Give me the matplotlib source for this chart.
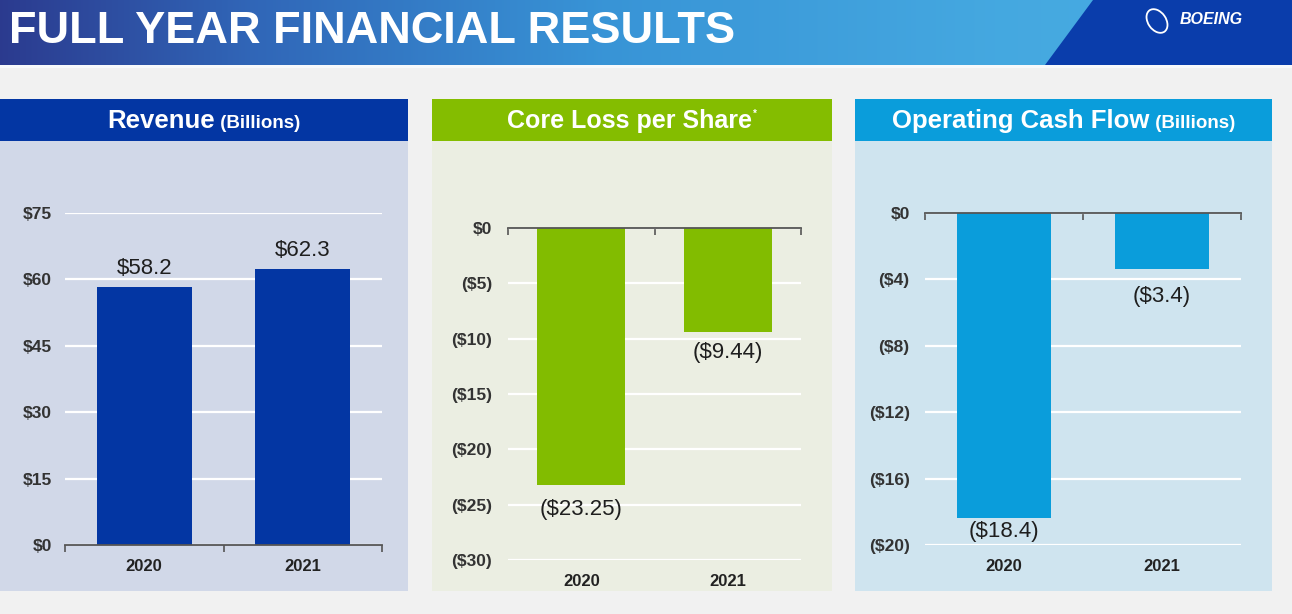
import numpy as np
import matplotlib
matplotlib.use("Agg")
import matplotlib.pyplot as plt
from matplotlib.patches import Rectangle, Polygon, Ellipse
from matplotlib.ticker import FuncFormatter, FixedLocator
from matplotlib.offsetbox import TextArea, HPacker, AnnotationBbox

# ---------------- data ----------------
years = ["2020", "2021"]
revenue = [58.2, 62.3]
revenue_labels = ["$58.2", "$62.3"]
core_eps = [-23.25, -9.44]
core_eps_labels = ["($23.25)", "($9.44)"]
op_cash = [-18.4, -3.4]
op_cash_labels = ["($18.4)", "($3.4)"]
revenue_ticks = [0, 15, 30, 45, 60, 75]
core_ticks = [0, -5, -10, -15, -20, -25, -30]
cash_ticks = [0, -4, -8, -12, -16, -20]
title = "FULL YEAR FINANCIAL RESULTS"

W, H = 1292, 614
plt.rcParams['font.family'] = ['Liberation Sans', 'DejaVu Sans']

fig = plt.figure(figsize=(W / 100, H / 100), dpi=100)
fig.patch.set_facecolor('#f1f1f1')


def fx(x):
    return x / W


def fy(y):
    return 1 - y / H


def rect_px(x0, y0, x1, y1, color, z=-2):
    fig.patches.append(Rectangle((fx(x0), fy(y1)), (x1 - x0) / W, (y1 - y0) / H,
                                 transform=fig.transFigure, facecolor=color,
                                 edgecolor='none', zorder=z))


# ---------------- banner ----------------
bax = fig.add_axes([0, fy(65), 1, 65 / H])
bax.set_axis_off()
stops_x = [0, 250, 600, 1000, 1292]
stops_c = [(0.17, 0.23, 0.56), (0.19, 0.40, 0.72), (0.22, 0.58, 0.84),
           (0.27, 0.66, 0.88), (0.28, 0.68, 0.89)]
xs = np.arange(W)
grad = np.zeros((1, W, 3))
for k in range(3):
    grad[0, :, k] = np.interp(xs, stops_x, [c[k] for c in stops_c])
bax.imshow(grad, aspect='auto', extent=[0, W, 65, 0])
bax.set_xlim(0, W)
bax.set_ylim(65, 0)
bax.add_patch(Polygon([[1045, 65], [1093, 0], [W, 0], [W, 65]], closed=True,
                      facecolor='#0a3dab', edgecolor='none'))
bax.text(9, 43, title, color='white', fontsize=32.5, fontweight='bold',
         va='baseline', ha='left')
bax.text(1180, 19, "BOEING", color='white', fontsize=11.5, fontweight='bold',
         fontstyle='italic', va='center', ha='left')
bax.add_patch(Ellipse((1157, 21), 18, 26, angle=-35, fill=False, edgecolor='white', lw=1.3))
rect_px(0, 65, W, 68, '#f7f9fb', z=1)

# ---------------- panels ----------------
panels = [
    dict(x0=0, x1=408, head='#0336a3', body='#d1d8e8', bar='#0336a3',
         ax=(65, 382, 213, 545), ylim=(0, 75), ticks=revenue_ticks,
         vals=revenue, labels=revenue_labels, offs=[6, 6],
         title=["Revenue", " (Billions)"], ylab_pad=9.5, xlab_pad=10),
    dict(x0=432, x1=832, head='#84bd00', body='#ebeee2', bar='#82bc00',
         ax=(508, 801, 228, 560), ylim=(-30, 0), ticks=core_ticks,
         vals=core_eps, labels=core_eps_labels, offs=[-10, -7],
         title=["Core Loss per Share", "*"], ylab_pad=11.5, xlab_pad=10),
    dict(x0=855, x1=1272, head='#0a9ddb', body='#cfe4ef', bar='#0a9ddb',
         ax=(925, 1241, 213, 545), ylim=(-20, 0), ticks=cash_ticks,
         vals=op_cash, labels=op_cash_labels, offs=[-2, -12],
         title=["Operating Cash Flow", " (Billions)"], ylab_pad=11, xlab_pad=10),
]


def money(v, pos=None):
    if v < 0:
        return "(${:g})".format(-v)
    return "${:g}".format(v)


for p in panels:
    rect_px(p['x0'], 141, p['x1'], 591, p['body'])
    rect_px(p['x0'], 99, p['x1'], 141, p['head'])

    # header text
    big = TextArea(p['title'][0], textprops=dict(color='white', fontsize=18.5, fontweight='bold'))
    if p['title'][1] == "*":
        big = TextArea(p['title'][0], textprops=dict(color='white', fontsize=18, fontweight='bold'))
        small = TextArea("*", textprops=dict(color='white', fontsize=7, fontweight='bold'))
        pack = HPacker(children=[big, small], align='top', pad=0, sep=1)
    else:
        small = TextArea(p['title'][1], textprops=dict(color='white', fontsize=13.5, fontweight='bold'))
        pack = HPacker(children=[big, small], align='baseline', pad=0, sep=0)
    ab = AnnotationBbox(pack, (fx((p['x0'] + p['x1']) / 2), fy(121)), xycoords='figure fraction',
                        frameon=False, box_alignment=(0.5, 0.5), pad=0)
    fig.add_artist(ab)

    l, r, t, b = p['ax']
    ax = fig.add_axes([fx(l), fy(b), (r - l) / W, (b - t) / H])
    ax.set_facecolor('none')
    ax.set_xlim(-0.5, 1.5)
    ax.set_ylim(*p['ylim'])
    xpos = np.arange(len(years))
    bars = ax.bar(xpos, p['vals'], width=0.6, color=p['bar'], zorder=2)
    for bar_, lab, off in zip(bars, p['labels'], p['offs']):
        h = bar_.get_height()
        ax.annotate(lab, (bar_.get_x() + bar_.get_width() / 2, h),
                    xytext=(0, off), textcoords='offset points',
                    ha='center', va='bottom' if off > 0 else 'top',
                    fontsize=16, color='#1e1e1e', zorder=4)
    ax.yaxis.set_major_locator(FixedLocator(p['ticks']))
    ax.yaxis.set_major_formatter(FuncFormatter(money))
    ax.yaxis.grid(True, color='white', lw=1.6, zorder=0)
    ax.set_axisbelow(True)
    for s in ax.spines.values():
        s.set_visible(False)
    zero_top = p['ylim'][1] == 0
    sp = ax.spines['top' if zero_top else 'bottom']
    sp.set_visible(True)
    sp.set_color('#555555')
    sp.set_linewidth(1.3)
    sp.set_zorder(3)
    ax.set_xticks(xpos)
    ax.set_xticklabels(years)
    ax.set_xticks([-0.5, 0.5, 1.5], minor=True)
    ax.tick_params(axis='x', which='major', length=0, pad=p['xlab_pad'],
                   labelsize=12, labelcolor='#222222', bottom=True, top=False)
    for lab in ax.get_xticklabels():
        lab.set_fontweight('bold')
    if zero_top:
        ax.tick_params(axis='x', which='minor', top=True, bottom=False,
                       direction='in', length=5, width=1.2, color='#555555')
    else:
        ax.tick_params(axis='x', which='minor', top=False, bottom=True,
                       direction='out', length=5, width=1.2, color='#555555')
    ax.tick_params(axis='y', length=0, pad=p['ylab_pad'], labelsize=12.5,
                   labelcolor='#333333')
    for lab in ax.get_yticklabels():
        lab.set_fontweight('bold')

fig.savefig("out.png", dpi=100, facecolor=fig.get_facecolor())
